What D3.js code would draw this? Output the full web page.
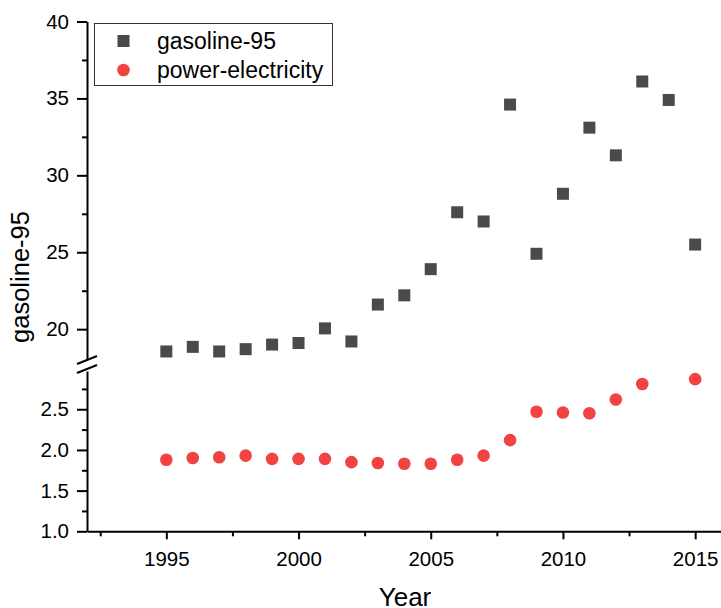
<!DOCTYPE html>
<html>
<head>
<meta charset="utf-8">
<script src="https://cdn.jsdelivr.net/npm/d3@7"></script>
<style>
  body { margin: 0; background: #fff; }
  svg text { font-family: "Liberation Sans", Arial, sans-serif; fill: #000; }
</style>
</head>
<body>
<div id="chart"></div>
<script>
// data
var years = [1995,1996,1997,1998,1999,2000,2001,2002,2003,2004,2005,2006,2007,2008,2009,2010,2011,2012,2013,2014,2015];
var gasoline = [18.55,18.85,18.55,18.7,19.0,19.1,20.05,19.2,21.6,22.2,23.9,27.6,27.0,34.6,24.9,28.8,33.1,31.3,36.1,34.9,25.5];
var elecYears = [1995,1996,1997,1998,1999,2000,2001,2002,2003,2004,2005,2006,2007,2008,2009,2010,2011,2012,2013,2015];
var electricity = [1.88,1.90,1.91,1.93,1.89,1.89,1.89,1.85,1.84,1.83,1.83,1.88,1.93,2.12,2.47,2.46,2.45,2.62,2.81,2.87];
var xTicks = [1995,2000,2005,2010,2015];
var xMinor = [1992.5,1997.5,2002.5,2007.5,2012.5];
var upTicks = [20,25,30,35,40];
var upMinor = [22.5,27.5,32.5,37.5];
var lowTicks = [1.0,1.5,2.0,2.5];
var lowMinor = [1.25,1.75,2.25,2.75];

var W = 721, H = 608;
var svg = d3.select("#chart").append("svg")
  .attr("width", W).attr("height", H);

var x = d3.scaleLinear().domain([1992, 2016]).range([87, 721.6]);
var yUp = d3.scaleLinear().domain([17.8, 40]).range([363, 21.5]);
var yLow = d3.scaleLinear().domain([1, 2.97]).range([531.3, 371]);

var gasColor = "#4a4a4a", elecColor = "#f24343";

// x axis
var gx = svg.append("g").attr("transform", "translate(0,531.3)");
gx.call(d3.axisBottom(x).tickValues(xTicks).tickFormat(d3.format("d")).tickSize(8).tickSizeOuter(0).tickPadding(12));
gx.append("g").call(d3.axisBottom(x).tickValues(xMinor).tickFormat("").tickSize(5).tickSizeOuter(0))
  .select(".domain").remove();

// y axis, upper part
var gu = svg.append("g").attr("transform", "translate(87,0)");
gu.call(d3.axisLeft(yUp).tickValues(upTicks).tickSize(10).tickSizeOuter(0).tickPadding(8));
gu.append("g").call(d3.axisLeft(yUp).tickValues(upMinor).tickFormat("").tickSize(5).tickSizeOuter(0))
  .select(".domain").remove();

// y axis, lower part
var gl = svg.append("g").attr("transform", "translate(87,0)");
gl.call(d3.axisLeft(yLow).tickValues(lowTicks).tickFormat(d3.format(".1f")).tickSize(10).tickSizeOuter(0).tickPadding(8));
gl.append("g").call(d3.axisLeft(yLow).tickValues(lowMinor).tickFormat("").tickSize(5).tickSizeOuter(0))
  .select(".domain").remove();

svg.selectAll(".domain, .tick line").attr("stroke", "#000").attr("stroke-width", 2);
svg.selectAll(".tick text").attr("font-size", 20.5).attr("font-family", "Liberation Sans, Arial, sans-serif");

// axis break marks
svg.append("polygon")
  .attr("points", "77,364 97,356 97,365 77,373")
  .attr("fill", "#fff");
svg.append("line").attr("x1", 77).attr("y1", 364).attr("x2", 97).attr("y2", 356)
  .attr("stroke", "#000").attr("stroke-width", 2);
svg.append("line").attr("x1", 77).attr("y1", 373).attr("x2", 97).attr("y2", 365)
  .attr("stroke", "#000").attr("stroke-width", 2);

// points
svg.append("g").selectAll("rect")
  .data(years)
  .enter().append("rect")
    .attr("x", function(d) { return x(d) - 6; })
    .attr("y", function(d, i) { return yUp(gasoline[i]) - 6; })
    .attr("width", 12).attr("height", 12)
    .attr("fill", gasColor);

svg.append("g").selectAll("circle")
  .data(elecYears)
  .enter().append("circle")
    .attr("cx", function(d) { return x(d); })
    .attr("cy", function(d, i) { return yLow(electricity[i]); })
    .attr("r", 6.3)
    .attr("fill", elecColor);

// axis titles
svg.append("text")
  .attr("x", 405).attr("y", 606)
  .attr("text-anchor", "middle").attr("font-size", 26)
  .text("Year");
svg.append("text")
  .attr("transform", "translate(29,277) rotate(-90)")
  .attr("text-anchor", "middle").attr("font-size", 25.5)
  .text("gasoline-95");

// legend
var lg = svg.append("g");
lg.append("rect").attr("x", 94.5).attr("y", 23.5).attr("width", 238).attr("height", 62)
  .attr("fill", "#fff").attr("stroke", "#333").attr("stroke-width", 1);
lg.append("rect").attr("x", 117.5).attr("y", 35).attr("width", 12).attr("height", 12).attr("fill", gasColor);
lg.append("circle").attr("cx", 123.5).attr("cy", 70).attr("r", 6.3).attr("fill", elecColor);
lg.append("text").attr("x", 157).attr("y", 48.5).attr("font-size", 23).text("gasoline-95");
lg.append("text").attr("x", 157).attr("y", 77.5).attr("font-size", 23).text("power-electricity");
</script>
</body>
</html>
